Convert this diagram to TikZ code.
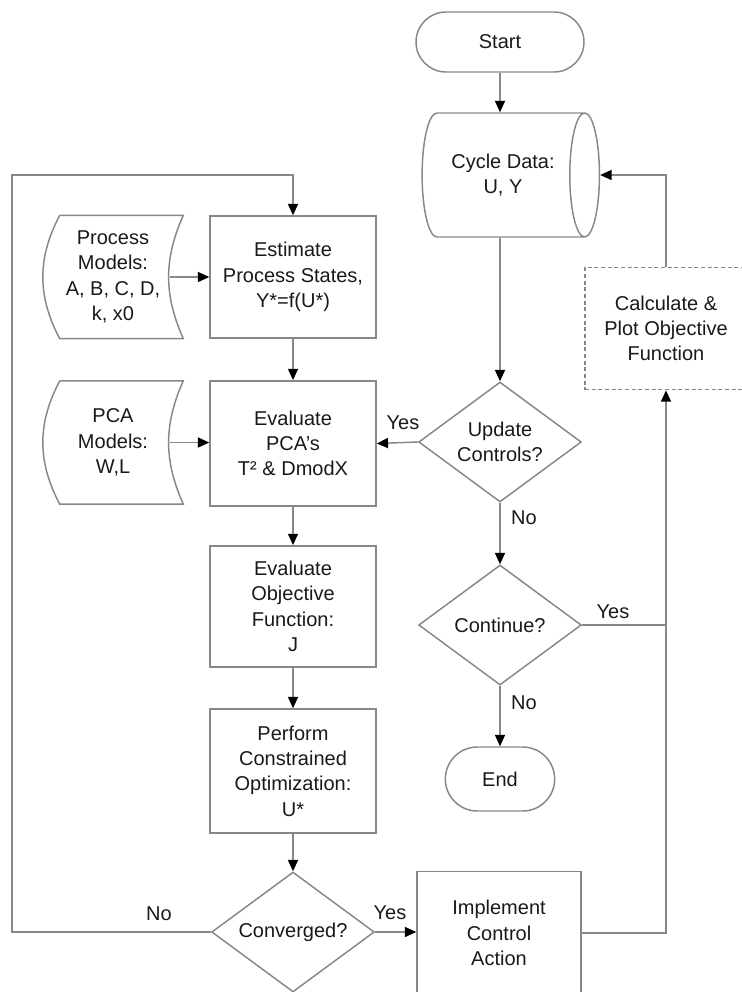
\documentclass[tikz,border=0pt]{standalone}
\usepackage{fontspec}
\setmainfont{Liberation Sans}
\usepackage{tikz}
\usetikzlibrary{shapes.geometric, shapes.misc, arrows.meta}
\definecolor{linegray}{RGB}{135,135,135}
\definecolor{textgray}{RGB}{25,25,25}

\newcommand{\storedshape}[1]{%
  \draw[flow] ([xshift=12.75pt]#1.north west) -- (#1.north east)
    to[bend right=24] (#1.south east) -- ([xshift=12.75pt]#1.south west)
    to[bend left=28] ([xshift=12.75pt]#1.north west);}

\begin{document}
\begin{tikzpicture}[x=0.75pt, y=-0.75pt,
    font=\fontsize{15}{19}\selectfont, text=textgray,
    flow/.style={draw=linegray, line width=1.1pt},
    arrow/.style={flow, -{Triangle[length=8.5pt, width=7.5pt, color=black]}},
    box/.style={rectangle, flow, align=center, inner sep=0pt, minimum width=124.5pt},
    decision/.style={diamond, flow, aspect=1.36, align=center, inner sep=0pt, minimum width=122pt, minimum height=90pt},
    term/.style={rounded rectangle, flow, inner sep=0pt, minimum width=126pt, minimum height=45pt},
    cyl/.style={cylinder, flow, shape aspect=0.7, align=center, inner sep=0pt, minimum width=93pt, minimum height=133pt},
    storage/.style={align=center, inner sep=0pt, minimum width=105pt, minimum height=92pt},
    lbl/.style={inner sep=0pt}]
\useasboundingbox (0,0) rectangle (742,992);
\clip (0,0) rectangle (742,992);

\node[term] (S) at (500,42) {Start};
\node[cyl] (D) at (503,175) {Cycle Data:\\U, Y};
\node[decision] (U) at (500,442) {Update\\Controls?};
\node[decision] (C) at (500,625) {Continue?};
\node[term, minimum width=82pt, minimum height=48pt] (E) at (500,779) {End};
\node[box, densely dashed, line width=0.8pt, minimum width=121.5pt, minimum height=92pt] (P) at (666,328.5) {Calculate \&\\Plot Objective\\Function};

\node[storage] (M) at (113,277) {Process\\Models:\\A, B, C, D,\\k, x0};
\node[storage] (N) at (113,442.5) {PCA\\Models:\\W,L};
\storedshape{M}
\storedshape{N}

\node[box, minimum height=91.5pt] (X) at (293,277) {Estimate\\Process States,\\Y*=f(U*)};
\node[box, minimum height=94pt] (V) at (293,443.5) {Evaluate\\PCA's\\T² \& DmodX};
\node[box, minimum height=91pt] (J) at (293,606.5) {Evaluate\\Objective\\Function:\\J};
\node[box, minimum height=93pt] (O) at (293,771) {Perform\\Constrained\\Optimization:\\U*};
\node[decision] (K) at (293,932) {Converged?};
\node[box, minimum width=123pt, minimum height=92pt] (I) at (499,933) {Implement\\Control\\Action};
\coordinate (L) at (12,175);

\draw[arrow] (S.south) -- (S.south |- D.north);
\draw[arrow] (U.north |- D.south) -- (U.north);
\draw[arrow] (U.west) -- (V.east);
\draw[arrow] (U.south) -- (C.north);
\draw[arrow] (C.south) -- (E.north);
\draw[flow] (C.east) -- (C.east -| P.south);
\draw[arrow] (P.north) |- (D.east);

\draw[arrow] ([xshift=-10pt]M.east) -- (X.west);
\draw[arrow] ([xshift=-10pt]N.east) -- (N.east -| V.west);
\draw[arrow] (X.south) -- (V.north);
\draw[arrow] (V.south) -- (J.north);
\draw[arrow] (J.south) -- (O.north);
\draw[arrow] (O.south) -- (K.north);
\draw[arrow] (K.east) -- (K.east -| I.west);
\draw[arrow] (K.west) -| (L) -| (X.north);
\draw[arrow] (I.east) -| (P.south);

\node[lbl] (yU) at (403,423) {Yes};
\node[lbl] (nU) at (524,518) {No};
\node[lbl] (yC) at (613,612) {Yes};
\node[lbl] (nC) at (524,703) {No};
\node[lbl] (yK) at (390,913) {Yes};
\node[lbl] (nK) at (159,914) {No};
\end{tikzpicture}
\end{document}
